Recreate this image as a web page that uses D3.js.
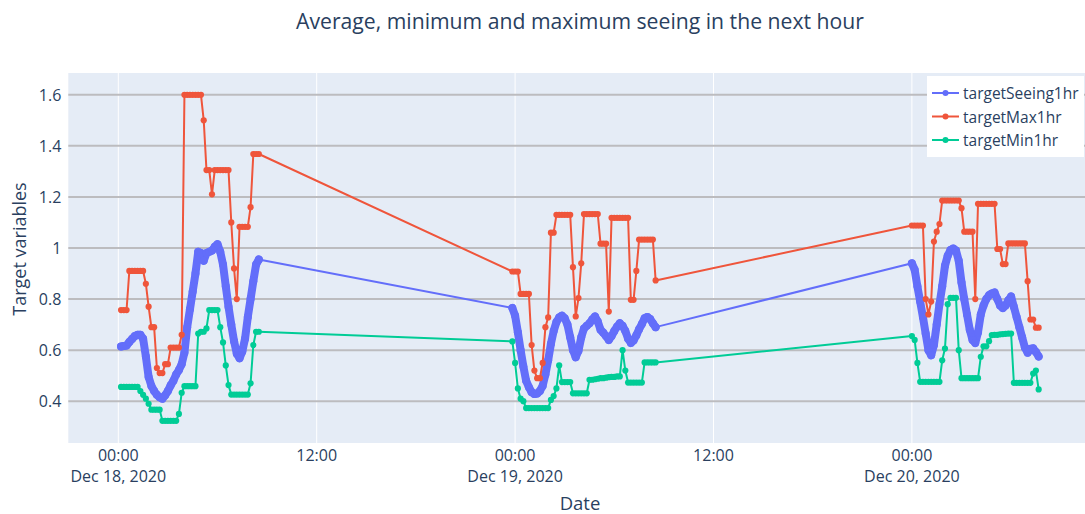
<!DOCTYPE html>
<html>
<head>
<meta charset="utf-8">
<script src="https://cdn.jsdelivr.net/npm/d3@7"></script>
<style>
  body { margin: 0; background: #fff; }
  svg { display: block; font-family: "Open Sans", "Liberation Sans", Arial, sans-serif; }
</style>
</head>
<body>
<svg id="chart" width="1085" height="514"></svg>
<script>
// ---- data -------------------------------------------------------------
const seriesNames = ["targetSeeing1hr", "targetMax1hr", "targetMin1hr"];
const seriesColors = ["#636efa", "#EF553B", "#00cc96"];

// each observing night is sampled every 10 minutes from its start time
const nightStarts = ["2020-12-18T00:10:00Z", "2020-12-18T23:50:00Z", "2020-12-20T00:00:00Z"];
const sampleMinutes = 10;

const seeingNight1 = [0.614,0.616,0.618,0.632,0.644,0.655,0.66,0.66,0.645,0.575,0.495,0.46,0.44,0.425,0.415,0.41,0.423,0.44,0.462,0.48,0.505,0.522,0.545,0.59,0.69,0.76,0.83,0.9,0.985,0.98,0.95,0.98,0.985,0.99,1.005,1.015,0.985,0.935,0.85,0.77,0.7,0.635,0.586,0.568,0.595,0.645,0.73,0.8,0.87,0.935,0.955];
const maxNight1 = [0.757,0.757,0.757,0.91,0.91,0.91,0.91,0.91,0.91,0.86,0.77,0.69,0.69,0.53,0.51,0.51,0.545,0.545,0.61,0.61,0.61,0.61,0.66,1.6,1.6,1.6,1.6,1.6,1.6,1.6,1.5,1.305,1.305,1.21,1.305,1.305,1.305,1.305,1.305,1.305,1.1,0.92,0.8,1.083,1.083,1.083,1.083,1.16,1.368,1.368,1.368];
const minNight1 = [0.456,0.456,0.456,0.456,0.456,0.456,0.456,0.44,0.425,0.41,0.39,0.367,0.367,0.367,0.367,0.323,0.323,0.323,0.323,0.323,0.323,0.35,0.433,0.459,0.459,0.459,0.459,0.459,0.665,0.672,0.672,0.685,0.757,0.757,0.757,0.757,0.69,0.63,0.54,0.463,0.426,0.426,0.426,0.426,0.426,0.426,0.426,0.47,0.62,0.672,0.672];

const seeingNight2 = [0.765,0.735,0.67,0.6,0.536,0.48,0.455,0.435,0.428,0.43,0.44,0.46,0.505,0.56,0.625,0.675,0.71,0.728,0.735,0.725,0.7,0.65,0.6,0.572,0.598,0.65,0.685,0.695,0.705,0.72,0.732,0.712,0.68,0.668,0.655,0.64,0.655,0.675,0.692,0.705,0.695,0.675,0.645,0.628,0.638,0.658,0.682,0.702,0.725,0.73,0.722,0.705,0.69];
const maxNight2 = [0.908,0.908,0.908,0.82,0.82,0.82,0.82,0.62,0.52,0.49,0.49,0.55,0.69,0.728,1.06,1.06,1.13,1.13,1.13,1.13,1.13,1.13,0.925,0.732,0.804,0.94,1.133,1.133,1.133,1.133,1.133,1.133,1.017,1.017,1.017,0.751,1.118,1.118,1.118,1.118,1.118,1.118,1.118,0.797,0.797,0.91,1.033,1.033,1.033,1.033,1.033,1.033,0.873];
const minNight2 = [0.634,0.55,0.45,0.41,0.4,0.373,0.373,0.373,0.373,0.373,0.373,0.373,0.373,0.373,0.405,0.42,0.45,0.54,0.475,0.475,0.475,0.475,0.431,0.431,0.431,0.431,0.431,0.431,0.484,0.484,0.486,0.488,0.49,0.49,0.492,0.494,0.495,0.495,0.497,0.497,0.6,0.52,0.473,0.473,0.473,0.473,0.473,0.473,0.552,0.552,0.552,0.552,0.552];

const seeingNight3 = [0.94,0.915,0.85,0.79,0.73,0.665,0.6,0.58,0.62,0.7,0.78,0.85,0.93,0.97,0.992,0.998,0.99,0.95,0.865,0.8,0.74,0.68,0.64,0.628,0.67,0.74,0.775,0.8,0.815,0.822,0.826,0.8,0.775,0.765,0.775,0.795,0.81,0.77,0.73,0.69,0.65,0.61,0.59,0.605,0.607,0.593,0.575];
const maxNight3 = [1.088,1.088,1.088,1.088,1.088,0.8,0.74,0.79,1.025,1.064,1.094,1.186,1.186,1.186,1.186,1.186,1.186,1.186,1.156,1.064,1.064,1.064,1.064,0.8,1.173,1.173,1.173,1.173,1.173,1.173,1.173,0.996,0.996,0.937,0.937,1.018,1.018,1.018,1.018,1.018,1.018,1.018,0.87,0.72,0.72,0.688,0.688];
const minNight3 = [0.655,0.64,0.55,0.476,0.476,0.476,0.476,0.476,0.476,0.476,0.476,0.56,0.606,0.78,0.805,0.805,0.805,0.6,0.49,0.49,0.49,0.49,0.49,0.49,0.49,0.574,0.615,0.615,0.635,0.659,0.66,0.66,0.662,0.663,0.664,0.665,0.665,0.472,0.472,0.472,0.472,0.472,0.472,0.472,0.508,0.52,0.446];

const yTickValues = [0.4, 0.6, 0.8, 1, 1.2, 1.4, 1.6];
const yTickLabels = ["0.4", "0.6", "0.8", "1", "1.2", "1.4", "1.6"];
const xDomain = ["2020-12-17T20:58:32Z", "2020-12-20T10:28:12Z"];
const yDomain = [0.2363, 1.6853];

const chartTitle = "Average, minimum and maximum seeing in the next hour";
const xTitle = "Date";
const yTitle = "Target variables";

// ---- layout -----------------------------------------------------------
const W = 1085, H = 514;
const plot = { left: 68.3, right: 1085, top: 73, bottom: 443 };
const textColor = "#2a3f5f";
const tickFont = 16;

const svg = d3.select("#chart");

const x = d3.scaleUtc()
  .domain(xDomain.map(d => new Date(d)))
  .range([plot.left, plot.right]);
const y = d3.scaleLinear().domain(yDomain).range([plot.bottom, plot.top]);

function buildNights(nights) {
  return nights.map((vals, n) => {
    const t0 = Date.parse(nightStarts[n]);
    return vals.map((v, i) => ({ t: new Date(t0 + i * sampleMinutes * 60000), v }));
  });
}
const nightTracks = [
  buildNights([seeingNight1, seeingNight2, seeingNight3]),
  buildNights([maxNight1, maxNight2, maxNight3]),
  buildNights([minNight1, minNight2, minNight3])
];
const markerRadius = [4, 3.1, 3.1];
// the seeing trace is densely sampled, so its markers merge into a solid band
const bandWidth = [8, 0, 0];

// plot background
svg.append("rect")
  .attr("x", plot.left).attr("y", plot.top)
  .attr("width", plot.right - plot.left).attr("height", plot.bottom - plot.top)
  .attr("fill", "#E5ECF6");

// vertical grid (every 12 hours)
const xTicks = x.ticks(d3.utcHour.every(12));
svg.append("g").selectAll("line").data(xTicks).join("line")
  .attr("x1", d => x(d)).attr("x2", d => x(d))
  .attr("y1", plot.top).attr("y2", plot.bottom)
  .attr("stroke", "#ffffff").attr("stroke-width", 1);

// horizontal grid
svg.append("g").selectAll("line").data(yTickValues).join("line")
  .attr("x1", plot.left).attr("x2", plot.right)
  .attr("y1", d => y(d)).attr("y2", d => y(d))
  .attr("stroke", "#bcbcbf").attr("stroke-width", 2);

// clip to plot area
svg.append("defs").append("clipPath").attr("id", "plotClip")
  .append("rect")
  .attr("x", plot.left).attr("y", plot.top)
  .attr("width", plot.right - plot.left).attr("height", plot.bottom - plot.top);

const line = d3.line().x(d => x(d.t)).y(d => y(d.v));
const traces = svg.append("g").attr("clip-path", "url(#plotClip)");
nightTracks.forEach((nights, k) => {
  const g = traces.append("g");
  const track = nights.flat();
  g.append("path").datum(track)
    .attr("d", line)
    .attr("fill", "none")
    .attr("stroke", seriesColors[k])
    .attr("stroke-width", 2)
    .attr("stroke-linejoin", "round");
  if (bandWidth[k] > 0) {
    g.selectAll("path.band").data(nights).join("path")
      .attr("class", "band")
      .attr("d", line)
      .attr("fill", "none")
      .attr("stroke", seriesColors[k])
      .attr("stroke-width", bandWidth[k])
      .attr("stroke-linejoin", "round")
      .attr("stroke-linecap", "round");
  }
  g.selectAll("circle").data(track).join("circle")
    .attr("cx", d => x(d.t)).attr("cy", d => y(d.v))
    .attr("r", markerRadius[k])
    .attr("fill", seriesColors[k]);
});

// y tick labels
const yFmt = new Map(yTickValues.map((v, i) => [v, yTickLabels[i]]));
svg.append("g").selectAll("text").data(yTickValues).join("text")
  .attr("x", plot.left - 7).attr("y", d => y(d))
  .attr("text-anchor", "end").attr("dominant-baseline", "central")
  .attr("font-size", tickFont).attr("fill", textColor)
  .text(d => yFmt.get(d));

// x tick labels (time, plus date at midnight)
const fmtTime = d3.utcFormat("%H:%M");
const fmtDate = d3.utcFormat("%b %d, %Y");
const xLab = svg.append("g");
xTicks.forEach(d => {
  xLab.append("text")
    .attr("x", x(d)).attr("y", 455)
    .attr("text-anchor", "middle").attr("dominant-baseline", "central")
    .attr("font-size", tickFont).attr("fill", textColor)
    .text(fmtTime(d));
  if (d.getUTCHours() === 0) {
    xLab.append("text")
      .attr("x", x(d)).attr("y", 476)
      .attr("text-anchor", "middle").attr("dominant-baseline", "central")
      .attr("font-size", tickFont).attr("fill", textColor)
      .text(fmtDate(d));
  }
});

// titles
svg.append("text")
  .attr("x", 580).attr("y", 20)
  .attr("text-anchor", "middle").attr("dominant-baseline", "central")
  .attr("font-size", 21.2).attr("fill", textColor)
  .text(chartTitle);
svg.append("text")
  .attr("x", 580).attr("y", 502)
  .attr("text-anchor", "middle").attr("dominant-baseline", "central")
  .attr("font-size", 18.5).attr("fill", textColor)
  .text(xTitle);
svg.append("text")
  .attr("transform", "translate(19,249) rotate(-90)")
  .attr("text-anchor", "middle").attr("dominant-baseline", "central")
  .attr("font-size", 18).attr("fill", textColor)
  .text(yTitle);

// legend
const legend = svg.append("g");
legend.append("rect")
  .attr("x", 927).attr("y", 76).attr("width", 157).attr("height", 81)
  .attr("fill", "#ffffff");
seriesNames.forEach((name, k) => {
  const ly = 93 + k * 23.5;
  legend.append("line")
    .attr("x1", 932).attr("x2", 959).attr("y1", ly).attr("y2", ly)
    .attr("stroke", seriesColors[k]).attr("stroke-width", 2);
  legend.append("circle")
    .attr("cx", 945.5).attr("cy", ly).attr("r", 3)
    .attr("fill", seriesColors[k]);
  legend.append("text")
    .attr("x", 963).attr("y", ly)
    .attr("dominant-baseline", "central")
    .attr("font-size", 15.5).attr("fill", textColor)
    .text(name);
});
</script>
</body>
</html>
